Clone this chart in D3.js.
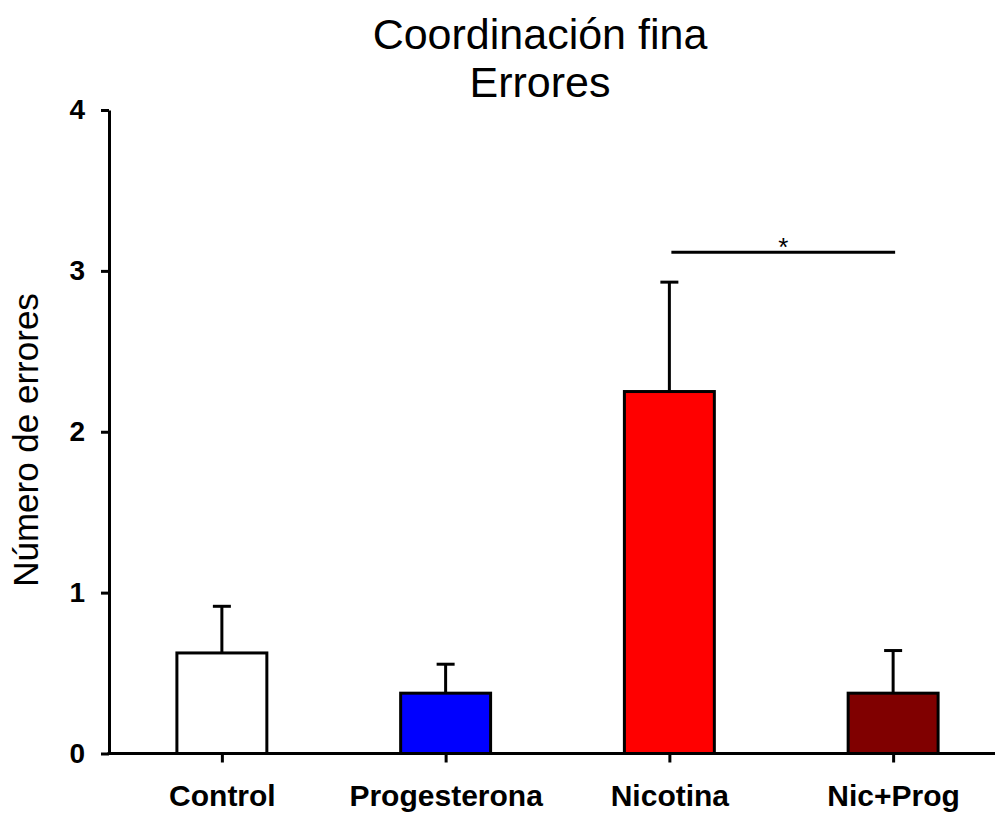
<!DOCTYPE html>
<html>
<head>
<meta charset="utf-8">
<script src="https://cdn.jsdelivr.net/npm/d3@7"></script>
<style>
  html, body { margin: 0; padding: 0; background: #fff; }
  svg { display: block; font-family: Arial, "Liberation Sans", sans-serif; }
</style>
</head>
<body>
<svg id="chart" width="995" height="813"></svg>
<script>
// Groups, means and standard errors
const categories = ["Control", "Progesterona", "Nicotina", "Nic+Prog"];
const means = [0.625, 0.375, 2.25, 0.375];
const sems = [0.29, 0.18, 0.68, 0.265];
const colors = ["#ffffff", "#0000ff", "#ff0000", "#800000"];
const yTicks = [0, 1, 2, 3, 4];
// Significance bracket between Nicotina and Nic+Prog
const sigPair = ["Nicotina", "Nic+Prog"];
const sigLevel = 3.115;
const sigLabel = "*";

const svg = d3.select("#chart");

const y = d3.scaleLinear().domain([0, 4]).range([753.5, 110]);
const x = d3.scalePoint().domain(categories).range([110, 1005]).padding(0.5);
const barW = x.step() * 0.402;
const capW = 18;

// Title
const title = svg.append("text")
  .attr("x", 540).attr("text-anchor", "middle")
  .attr("font-size", 43).attr("fill", "#000");
title.append("tspan").attr("x", 540).attr("y", 49).text("Coordinación fina");
title.append("tspan").attr("x", 540).attr("y", 97).text("Errores");

// Y axis title
svg.append("text")
  .attr("transform", "translate(38,440) rotate(-90)")
  .attr("text-anchor", "middle")
  .attr("font-size", 35)
  .text("Número de errores");

// Bars
svg.selectAll("rect.bar")
  .data(categories)
  .join("rect")
  .attr("class", "bar")
  .attr("x", d => x(d) - barW / 2)
  .attr("width", barW)
  .attr("y", (d, i) => y(means[i]))
  .attr("height", (d, i) => y(0) - y(means[i]))
  .attr("fill", (d, i) => colors[i])
  .attr("stroke", "#000")
  .attr("stroke-width", 3);

// Upper error bars
const err = svg.append("g").attr("stroke", "#000").attr("stroke-width", 3);
categories.forEach((c, i) => {
  err.append("line")
    .attr("x1", x(c)).attr("x2", x(c))
    .attr("y1", y(means[i])).attr("y2", y(means[i] + sems[i]));
  err.append("line")
    .attr("x1", x(c) - capW / 2).attr("x2", x(c) + capW / 2)
    .attr("y1", y(means[i] + sems[i])).attr("y2", y(means[i] + sems[i]));
});

// Y axis
const yAxis = svg.append("g")
  .attr("transform", "translate(109,0)")
  .call(d3.axisLeft(y).tickValues(yTicks).tickFormat(d3.format("d")).tickSize(8).tickSizeOuter(0).tickPadding(16));
yAxis.select(".domain").attr("stroke-width", 3);
yAxis.selectAll(".tick line").attr("stroke-width", 3);
yAxis.selectAll(".tick text")
  .attr("font-size", 28).attr("font-weight", "bold")
  .attr("font-family", "Arial, 'Liberation Sans', sans-serif").attr("fill", "#000");

// X axis
const xAxis = svg.append("g")
  .attr("transform", `translate(0,${y(0)})`)
  .call(d3.axisBottom(x).tickSize(9).tickSizeOuter(0).tickPadding(22));
xAxis.select(".domain").attr("d", `M107.5,0H995`).attr("stroke-width", 3);
xAxis.selectAll(".tick line").attr("stroke-width", 3);
xAxis.selectAll(".tick text")
  .attr("font-size", 30).attr("font-weight", "bold")
  .attr("font-family", "Arial, 'Liberation Sans', sans-serif").attr("fill", "#000");

// Significance line
svg.append("line")
  .attr("x1", x(sigPair[0]) + 2).attr("x2", x(sigPair[1]) + 2)
  .attr("y1", y(sigLevel)).attr("y2", y(sigLevel))
  .attr("stroke", "#000").attr("stroke-width", 3);
svg.append("text")
  .attr("x", (x(sigPair[0]) + x(sigPair[1])) / 2 + 2)
  .attr("y", y(sigLevel) + 4)
  .attr("text-anchor", "middle")
  .attr("font-size", 26)
  .text(sigLabel);
</script>
</body>
</html>
